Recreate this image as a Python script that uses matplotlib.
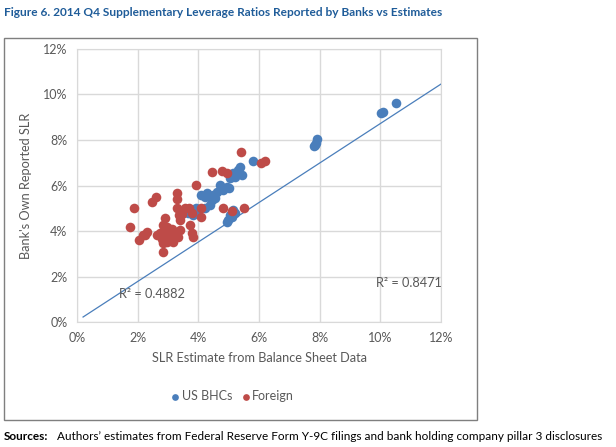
import matplotlib.pyplot as plt
from matplotlib.patches import Rectangle
from matplotlib.ticker import PercentFormatter

# valores (em %)
us_x = [10.52, 10.08, 10.02, 7.90, 7.88, 7.82, 7.85, 5.80,
        5.37, 5.32, 5.43, 5.21, 5.15, 5.04, 5.30,
        4.93, 5.02, 4.82, 4.71, 4.61, 4.49, 4.44, 4.28, 4.22, 4.38, 4.22,
        3.95, 3.83, 3.67, 4.10, 4.55, 3.92, 3.84,
        5.15, 5.21, 5.10, 4.99, 4.93, 5.05]
us_y = [9.61, 9.22, 9.18, 8.03, 7.88, 7.74, 7.80, 7.09,
        6.83, 6.61, 6.46, 6.39, 6.54, 6.32, 6.70,
        5.95, 5.88, 5.80, 6.02, 5.73, 5.58, 5.36, 5.65, 5.51, 5.14, 5.00,
        4.92, 4.78, 4.78, 5.60, 5.45, 5.00, 4.70,
        4.92, 4.78, 4.63, 4.48, 4.41, 4.70]

fr_x = [1.75, 1.87, 2.03, 2.30, 2.24, 2.19, 2.46, 2.60, 3.31, 3.31, 3.31, 3.57,
        3.36, 3.40, 3.78, 3.91, 4.09, 4.09, 4.46, 4.77, 4.93, 5.40, 6.05, 6.20,
        4.82, 5.10, 5.52, 2.90, 2.85, 2.96, 2.74, 2.63, 2.79, 2.90, 3.12, 3.23,
        3.07, 2.96, 3.17, 3.34, 3.40, 2.85, 2.85, 3.73, 3.78, 3.84, 3.45, 3.70]
fr_y = [4.19, 5.00, 3.60, 3.97, 3.82, 3.82, 5.29, 5.51, 5.68, 5.39, 5.00, 5.00,
        4.70, 4.48, 4.81, 6.01, 5.00, 4.60, 6.61, 6.65, 6.54, 7.49, 6.97, 7.06,
        5.00, 4.90, 5.00, 4.56, 4.26, 4.19, 3.90, 3.82, 3.63, 3.97, 4.07, 3.90,
        3.75, 3.53, 3.53, 3.75, 4.04, 3.46, 3.09, 4.26, 3.90, 3.75, 4.75, 5.00]

linha_x = [0.2, 12.0]
linha_y = [0.22, 10.46]

azul = '#4A7EBB'
vermelho = '#BE4B48'
cinza = '#595959'

plt.rcParams['font.family'] = ['Lato', 'DejaVu Sans']

fig = plt.figure(figsize=(6.16, 4.47), dpi=100)
ax = fig.add_axes([0.125, 0.2796, 0.591, 0.6108])

ax.scatter(us_x, us_y, s=48, color=azul, label='US BHCs', zorder=3, linewidths=0)
ax.scatter(fr_x, fr_y, s=48, color=vermelho, label='Foreign', zorder=3, linewidths=0)
ax.plot(linha_x, linha_y, color=azul, linewidth=0.9, zorder=2)

ax.text(1.38, 1.23, 'R² = 0.4882', fontsize=9.2, color=cinza, va='center')
ax.text(9.86, 1.71, 'R² = 0.8471', fontsize=9.2, color=cinza, va='center')

ax.set_xlim(0, 12)
ax.set_ylim(0, 12)
ax.set_xticks(range(0, 13, 2))
ax.set_yticks(range(0, 13, 2))
ax.xaxis.set_major_formatter(PercentFormatter(decimals=0))
ax.yaxis.set_major_formatter(PercentFormatter(decimals=0))
ax.tick_params(length=0, labelsize=9, labelcolor=cinza, pad=7)
ax.grid(True, color='#D9D9D9', linewidth=1)
ax.set_axisbelow(True)
for s in ax.spines.values():
    s.set_color('#D9D9D9')

ax.set_xlabel('SLR Estimate from Balance Sheet Data', fontsize=9.2, color=cinza, labelpad=6)
ax.set_ylabel("Bank's Own Reported SLR", fontsize=9.2, color=cinza, labelpad=8)

ax.legend(loc='center', bbox_to_anchor=(0.377, 0.113), bbox_transform=fig.transFigure,
          ncol=2, frameon=False, fontsize=9, labelcolor=cinza, handletextpad=0.1,
          columnspacing=0.7, handlelength=0.8, markerscale=0.7)

fig.patches.append(Rectangle((4 / 616, 1 - 420 / 447), 473 / 616, 382 / 447,
                             transform=fig.transFigure, fill=False,
                             edgecolor='#7F7F7F', linewidth=1))

fig.text(4 / 616, 1 - 12 / 447, 'Figure 6. 2014 Q4 Supplementary Leverage Ratios Reported by Banks vs Estimates',
         fontsize=8.6, fontweight='bold', color='#1F5C99', va='center')
fig.text(4 / 616, 1 - 437 / 447, 'Sources:', fontsize=8.5, fontweight='bold', va='center')
fig.text(57 / 616, 1 - 437 / 447,
         'Authors\u2019 estimates from Federal Reserve Form Y-9C filings and bank holding company pillar 3 disclosures',
         fontsize=8.5, va='center')

fig.savefig('out.png', dpi=100)
